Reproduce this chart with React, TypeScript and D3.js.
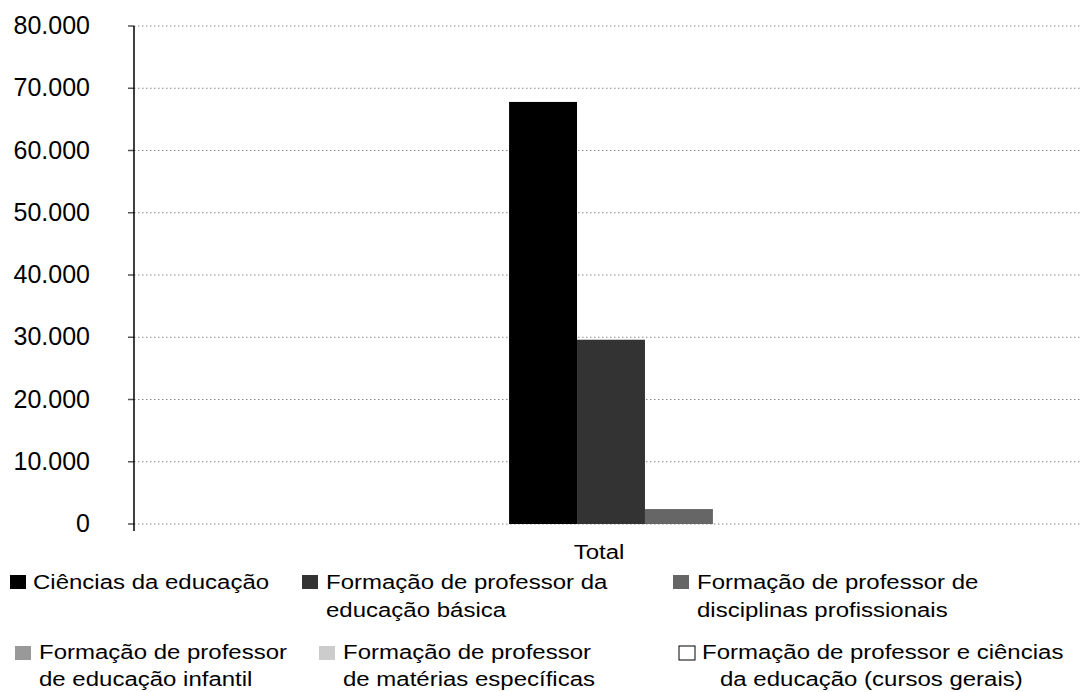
import React from "react";
import * as d3 from "d3";

const categories = ["Total"];
const seriesNames = [
  "Ciências da educação",
  "Formação de professor da educação básica",
  "Formação de professor de disciplinas profissionais",
  "Formação de professor de educação infantil",
  "Formação de professor de matérias específicas",
  "Formação de professor e ciências da educação (cursos gerais)",
];
const legendLines = [
  ["Ciências da educação"],
  ["Formação de professor da", "educação básica"],
  ["Formação de professor de", "disciplinas profissionais"],
  ["Formação de professor", "de educação infantil"],
  ["Formação de professor", "de matérias específicas"],
  ["Formação de professor e ciências", "da educação (cursos gerais)"],
];
const seriesValues: (number | null)[] = [67800, 29600, 2400, null, null, null];
const seriesColors = ["#000000", "#333333", "#666666", "#999999", "#cccccc", "#ffffff"];
const yTicks = [0, 10000, 20000, 30000, 40000, 50000, 60000, 70000, 80000];

// layout (not data)
const legendLayout = [
  { mx: 10, my: 575, ty: 589, gap: 28, lineX: [33] },
  { mx: 302, my: 575, ty: 589, gap: 28, lineX: [326, 326] },
  { mx: 673, my: 575, ty: 589, gap: 28, lineX: [697, 697] },
  { mx: 15, my: 646, ty: 659, gap: 27, lineX: [39, 39] },
  { mx: 319, my: 646, ty: 659, gap: 27, lineX: [343, 343] },
  { mx: 679, my: 646, ty: 659, gap: 27, lineX: [702, 720] },
];

const W = 1082;
const H = 692;
const left = 134;
const top = 26;
const bottom = 524;
const font = "'Liberation Sans', Arial, Helvetica, sans-serif";

const locale = d3.formatLocale({ decimal: ",", thousands: ".", grouping: [3], currency: ["R$", ""] });
const fmt = locale.format(",d");

export default function App() {
  const y = d3.scaleLinear().domain([0, 80000]).range([bottom, top]);
  const x0 = d3.scaleBand<string>().domain(categories).range([left, 1088]).paddingInner(0).paddingOuter(1.84);
  const present = seriesNames.filter((_, i) => seriesValues[i] != null);
  const x1 = d3.scaleBand<string>().domain(present).range([0, x0.bandwidth()]);
  const sy = 0.83;

  return (
    <svg width={W} height={H} style={{ display: "block", position: "absolute", left: 0, top: 0, background: "#fff" }}>
      <rect x={0} y={0} width={W} height={H} fill="#fff" />
      {yTicks.map((t) => (
        <g key={t}>
          <line x1={left} x2={W} y1={y(t)} y2={y(t)} stroke="#8a8a8a" strokeWidth={1.2} strokeDasharray="1.5,2.5" />
          <line x1={left - 6} x2={left} y1={y(t)} y2={y(t)} stroke="#555" strokeWidth={1.5} />
          <text x={90} y={y(t) + 8} textAnchor="end" fontFamily={font} fontSize={25} fill="#000">
            {fmt(t)}
          </text>
        </g>
      ))}
      {categories.map((c) => (
        <g key={c} transform={`translate(${x0(c)},0)`}>
          {seriesNames.map((s, i) => {
            const v = seriesValues[i];
            if (v == null) return null;
            return (
              <rect key={s} x={x1(s)} y={y(v)} width={x1.bandwidth()} height={y(0) - y(v)} fill={seriesColors[i]} />
            );
          })}
        </g>
      ))}
      <line x1={left} x2={left} y1={top} y2={bottom + 7} stroke="#000" strokeWidth={1.5} />
      {categories.map((c) => (
        <text
          key={c}
          transform={`translate(${(x0(c) as number) + x0.bandwidth() / 2 - 12},559) scale(1,${sy})`}
          textAnchor="middle"
          fontFamily={font}
          fontSize={24}
          fill="#000"
        >
          {c}
        </text>
      ))}
      {seriesNames.map((s, i) => {
        const L = legendLayout[i];
        return (
          <g key={s}>
            <rect
              x={L.mx}
              y={L.my}
              width={16}
              height={14}
              fill={seriesColors[i]}
              stroke={i === 5 ? "#000" : "none"}
              strokeWidth={1}
            />
            {legendLines[i].map((ln, j) => (
              <text
                key={j}
                transform={`translate(${L.lineX[j]},${L.ty + j * L.gap}) scale(1,${sy})`}
                fontFamily={font}
                fontSize={24}
                fill="#000"
              >
                {ln}
              </text>
            ))}
          </g>
        );
      })}
    </svg>
  );
}
